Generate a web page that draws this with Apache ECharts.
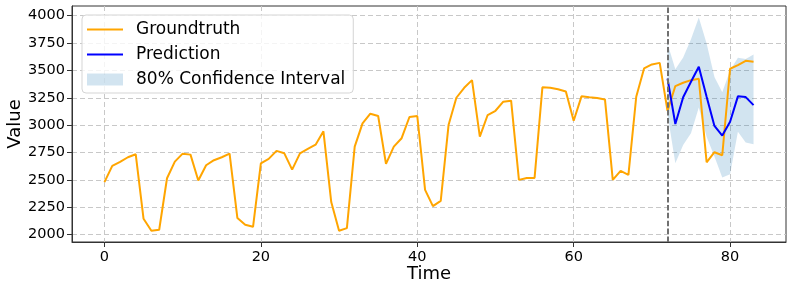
<!DOCTYPE html>
<html><head><meta charset="utf-8">
<script src="https://cdn.jsdelivr.net/npm/echarts@6/dist/echarts.min.js"></script>
<style>html,body{margin:0;padding:0;background:#fff}#c{width:792px;height:291px}</style>
</head><body><div id="c"></div>
<script>
const time = [0,1,2,3,4,5,6,7,8,9,10,11,12,13,14,15,16,17,18,19,20,21,22,23,24,25,26,27,28,29,30,31,32,33,34,35,36,37,38,39,40,41,42,43,44,45,46,47,48,49,50,51,52,53,54,55,56,57,58,59,60,61,62,63,64,65,66,67,68,69,70,71,72,73,74,75,76,77,78,79,80,81,82,83];
const groundtruth = [2478,2627,2663,2706,2733,2143,2034,2043,2514,2666,2739,2730,2493,2633,2679,2706,2739,2150,2088,2070,
  2651,2691,2764,2742,2593,2742,2782,2821,2943,2296,2034,2058,2803,3016,3104,3083,2645,2803,2880,3074,
  3083,2408,2259,2307,3000,3250,3341,3411,2894,3092,3131,3214,3223,2499,2517,2517,3345,3341,3327,3308,
  3040,3263,3254,3247,3235,2499,2581,2545,3259,3518,3555,3569,3130,3357,3387,3411,3423,2660,2752,2724,
  3515,3548,3588,3580];
const predTime = [72,73,74,75,76,77,78,79,80,81,82,83];
const prediction = [3425,3010,3254,3396,3533,3259,2992,2904,3031,3263,3256,3183];
const ciLower = [3100,2650,2818,2925,3160,2894,2712,2520,2550,2940,2840,2825];
const ciUpper = [3746,3510,3618,3785,3983,3746,3440,3300,3500,3615,3605,3646];
const xTicks = [0,20,40,60,80];
const yTicks = [2000,2250,2500,2750,3000,3250,3500,3750,4000];
const forecastStart = 72;

const FONT = 'DejaVu Sans';
const BAND = 'rgba(31,119,180,0.2)';
const LINE_ICON = 'path://M0,0L36,0L36,0Z M0,5H36V7H0Z M0,12L36,12L36,12Z';
const chart = echarts.init(document.getElementById('c'), null, {renderer:'canvas'});
const gtData = time.map((t,i)=>[t, groundtruth[i]]);
const predData = predTime.map((t,i)=>[t, prediction[i]]);
const bandData = predTime.map((t,i)=>[t, ciLower[i], ciUpper[i]]);

const axisCommon = {
  axisLine:{show:true, onZero:false, lineStyle:{color:'#333', width:1}},
  axisTick:{show:true, length:5, lineStyle:{color:'#333', width:1}},
  axisLabel:{color:'#000', fontFamily:FONT, fontSize:14.5, formatter:v=>String(v)},
  splitLine:{show:true, lineStyle:{color:'#c8c8c8', type:[5,3], width:1}},
  nameTextStyle:{color:'#000', fontFamily:FONT, fontSize:18},
  nameMoveOverlap:false
};

chart.setOption({
  animation:false,
  backgroundColor:'#fff',
  grid:{left:72, right:6, top:6, bottom:49, containLabel:false, outerBoundsMode:'none',
        show:true, borderColor:'#333', borderWidth:1, backgroundColor:'#fff'},
  legend:{
    orient:'vertical', left:82, top:15,
    padding:[6,8,5,5], itemGap:8, itemWidth:36, itemHeight:12,
    backgroundColor:'rgba(255,255,255,0.8)', borderColor:'#d5d5d5', borderWidth:1, borderRadius:4,
    textStyle:{fontFamily:FONT, fontSize:17, color:'#000', padding:[0,0,0,8]},
    data:[
      {name:'Groundtruth', icon:LINE_ICON, itemStyle:{color:'#FFA500'}},
      {name:'Prediction', icon:LINE_ICON, itemStyle:{color:'#0000FF'}},
      {name:'80% Confidence Interval', icon:'rect', itemStyle:{color:BAND}}
    ]
  },
  xAxis:Object.assign({}, axisCommon, {
    type:'value', min:-4.15, max:87.15,
    name:'Time', nameLocation:'middle', nameGap:23,
    axisTick:Object.assign({}, axisCommon.axisTick, {customValues:xTicks}),
    axisLabel:Object.assign({}, axisCommon.axisLabel, {customValues:xTicks, margin:8}),
  }),
  yAxis:Object.assign({}, axisCommon, {
    type:'value', min:1931, max:4089,
    name:'Value', nameLocation:'middle', nameGap:48, nameRotate:90,
    axisTick:Object.assign({}, axisCommon.axisTick, {customValues:yTicks}),
    axisLabel:Object.assign({}, axisCommon.axisLabel, {customValues:yTicks, margin:7}),
  }),
  series:[
    {name:'80% Confidence Interval', type:'custom', data:bandData, silent:true, z:1,
     itemStyle:{color:BAND},
     encode:{x:0, y:[1,2]},
     renderItem:function(params, api){
       if (params.dataIndex !== 0) return null;
       const pts = [];
       for (let i=0;i<bandData.length;i++) pts.push(api.coord([bandData[i][0], bandData[i][2]]));
       for (let i=bandData.length-1;i>=0;i--) pts.push(api.coord([bandData[i][0], bandData[i][1]]));
       return {type:'polygon', shape:{points:pts}, style:{fill:BAND, stroke:null}};
     }},
    {name:'Groundtruth', type:'line', data:gtData, symbol:'none',
     lineStyle:{color:'#FFA500', width:2}, itemStyle:{color:'#FFA500'}, z:3},
    {name:'Prediction', type:'line', data:predData, symbol:'none',
     lineStyle:{color:'#0000FF', width:2}, itemStyle:{color:'#0000FF'}, z:4,
     markLine:{silent:true, symbol:'none', label:{show:false},
       lineStyle:{color:'#707070', type:[5.5,2.4], width:2},
       data:[{xAxis:forecastStart}]}}
  ]
});
</script></body></html>
